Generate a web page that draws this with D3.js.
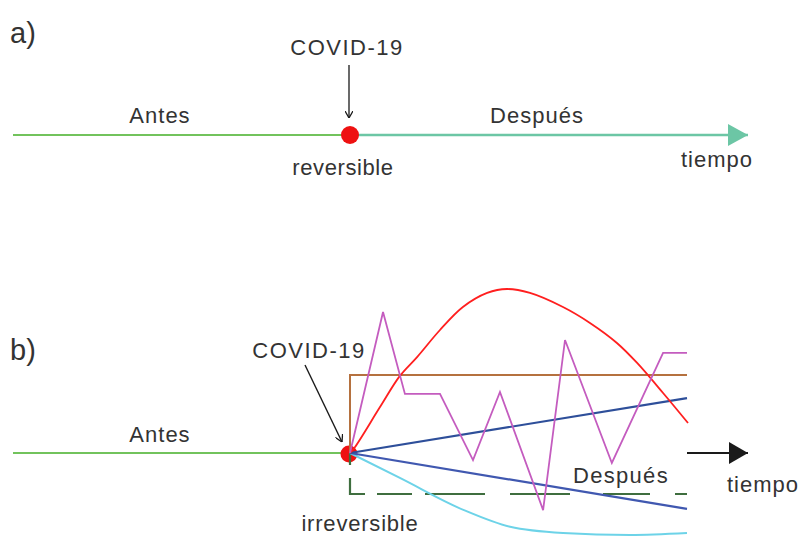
<!DOCTYPE html>
<html>
<head>
<meta charset="utf-8">
<script src="https://cdn.jsdelivr.net/npm/d3@7/dist/d3.min.js"></script>
<style>
html,body{margin:0;padding:0;background:#fff;}
svg{display:block;}
text{font-family:"Liberation Sans",Arial,sans-serif;fill:#333;}
</style>
</head>
<body>
<svg id="chart" width="804" height="538"></svg>
<script>
// time axis: -1 = start, 0 = COVID-19 event, 1 = end of "después" window
const timeExtent = [-1, 1];
const arrowEnd = 1.181;

// Panel a) — reversible
const aBefore = [[-1, 0], [0, 0]];
const aAfter = [[0, 0], [arrowEnd, 0]];

// Panel b) — irreversible trajectories (t, value)
const bBefore = [[-1, 0], [0, 0]];
const redCurve = [[0,0],[0.015,0.037],[0.089,0.28],[0.148,0.47],[0.199,0.585],[0.267,0.75],[0.335,0.89],[0.407,0.976],[0.466,1.0],[0.534,0.976],[0.632,0.89],[0.712,0.793],[0.792,0.671],[0.852,0.549],[0.929,0.366],[1.003,0.183]];
const purpleZigzag = [[0,0],[0.098,0.86],[0.163,0.36],[0.267,0.36],[0.365,-0.043],[0.445,0.372],[0.573,-0.348],[0.638,0.689],[0.777,-0.061],[0.929,0.61],[1.0,0.61]];
const brownStep = [[0,0],[0,0.476],[1,0.476]];
const blueUp = [[0,0],[1,0.335]];
const blueDown = [[0,0],[1,-0.341]];
const cyanCurve = [[0,0],[0.148,-0.152],[0.34,-0.35],[0.475,-0.45],[0.632,-0.488],[0.831,-0.5],[1,-0.488]];
const greenDashed = [[0,0],[0,-0.25],[1,-0.25]];
const bAxis = [[1,0],[arrowEnd,0]];

const svg = d3.select("#chart");
const x = d3.scaleLinear().domain(timeExtent).range([13, 687]);
const yA = d3.scaleLinear().domain([-1, 1]).range([299, -29]); // 0 -> 135
const yB = d3.scaleLinear().domain([-1, 1]).range([617, 289]); // 0 -> 453

const defs = svg.append("defs");
function marker(id, color, w, h, open) {
  const m = defs.append("marker").attr("id", id)
    .attr("viewBox", `0 0 ${w} ${h}`).attr("refX", w).attr("refY", h/2)
    .attr("markerWidth", w).attr("markerHeight", h)
    .attr("markerUnits", "userSpaceOnUse").attr("orient", "auto");
  m.append("path").attr("d", `M0,0L${w},${h/2}L0,${h}` + (open ? "" : "Z"))
    .attr("fill", open ? "none" : color).attr("stroke", color).attr("stroke-width", open ? 1.3 : 0);
}
marker("tealHead", "#6cc6a5", 20, 22, false);
marker("blackHead", "#1a1a1a", 19, 22, false);
marker("smallHead", "#1a1a1a", 7, 8, true);

function line(y, curve) {
  return d3.line().x(d => x(d[0])).y(d => y(d[1])).curve(curve || d3.curveLinear);
}
function draw(data, y, color, w, opts = {}) {
  const p = svg.append("path").datum(data)
    .attr("d", line(y, opts.curve)(data))
    .attr("fill", "none").attr("stroke", color).attr("stroke-width", w);
  if (opts.dash) p.attr("stroke-dasharray", opts.dash);
  if (opts.marker) p.attr("marker-end", `url(#${opts.marker})`);
  return p;
}
function label(txt, px, py, size, anchor, spacing) {
  svg.append("text").attr("x", px).attr("y", py).attr("font-size", size)
    .attr("text-anchor", anchor || "start").attr("letter-spacing", spacing == null ? 1 : spacing)
    .text(txt);
}

// ---------- Panel a ----------
draw(aBefore, yA, "#72c35c", 2.2);
draw(aAfter, yA, "#6cc6a5", 2.4, {marker: "tealHead"});
svg.append("circle").attr("cx", x(0)).attr("cy", yA(0)).attr("r", 9).attr("fill", "#ee1111");
svg.append("line").attr("x1", 349).attr("y1", 65).attr("x2", 349).attr("y2", 118)
  .attr("stroke", "#1a1a1a").attr("stroke-width", 1.3).attr("marker-end", "url(#smallHead)");
label("a)", 10, 43, 29, "start", 0);
label("COVID-19", 347, 55, 22, "middle", 1.5);
label("Antes", 160, 123, 22, "middle");
label("Después", 537, 123, 22, "middle");
label("reversible", 343, 175, 22, "middle", 0.6);
label("tiempo", 717, 167, 22, "middle");

// ---------- Panel b ----------
draw(bBefore, yB, "#72c35c", 2.2);
svg.append("circle").attr("cx", x(0) - 1).attr("cy", yB(0) + 1).attr("r", 8.5).attr("fill", "#ee1111");
draw(brownStep, yB, "#b5713f", 2);
draw(greenDashed, yB, "#3f6e3f", 2.2, {dash: "12,13,31,12,35,13,60,25,60,33,47,25,20"});
draw(cyanCurve, yB, "#6dd3e8", 2, {curve: d3.curveMonotoneX});
draw(blueDown, yB, "#4058b0", 2.2);
draw(blueUp, yB, "#2e4f9a", 2.2);
draw(redCurve, yB, "#ff1f1f", 1.8, {curve: d3.curveCatmullRom});
draw(purpleZigzag, yB, "#c45cbf", 1.8);
draw(bAxis, yB, "#1a1a1a", 2, {marker: "blackHead"});
svg.append("line").attr("x1", 305).attr("y1", 365).attr("x2", 342).attr("y2", 442)
  .attr("stroke", "#1a1a1a").attr("stroke-width", 1.4).attr("marker-end", "url(#smallHead)");
label("b)", 10, 360, 29, "start", 0);
label("COVID-19", 309, 358, 22, "middle", 1.5);
label("Antes", 160, 442, 22, "middle");
label("Después", 621, 483, 22, "middle", 1.3);
label("tiempo", 763, 492, 22, "middle");
label("irreversible", 360, 531, 22, "middle", 0.8);
</script>
</body>
</html>
